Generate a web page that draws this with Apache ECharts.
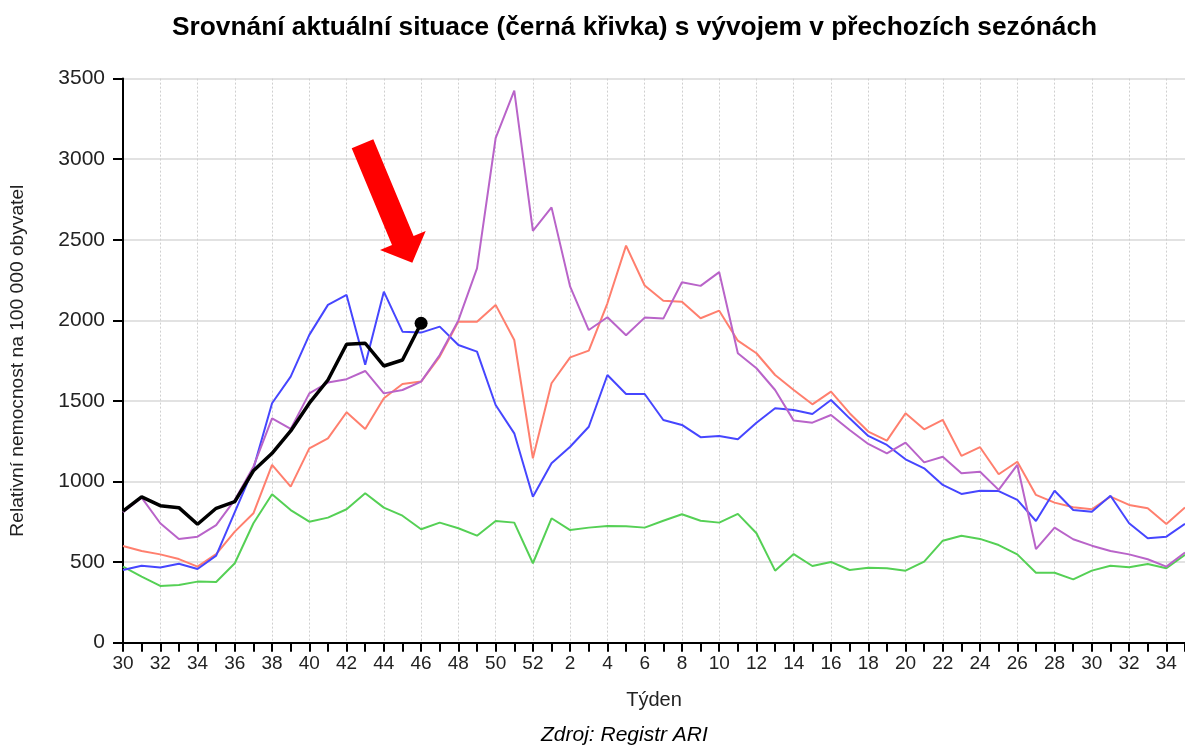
<!DOCTYPE html>
<html>
<head>
<meta charset="utf-8">
<script src="https://cdn.jsdelivr.net/npm/echarts@6/dist/echarts.min.js"></script>
<style>
  html, body { margin: 0; padding: 0; background: #fff; }
  #chart { width: 1185px; height: 747px; }
</style>
</head>
<body>
<div id="chart"></div>
<script>
// Week categories (season from week 30 to week 35 of the following year)
const weeks = [30,31,32,33,34,35,36,37,38,39,40,41,42,43,44,45,46,47,48,49,50,51,52,
               1,2,3,4,5,6,7,8,9,10,11,12,13,14,15,16,17,18,19,20,21,22,23,24,25,26,27,28,29,30,31,32,33,34,35];

// Current season (black curve)
const current = [817, 905, 850, 838, 735, 834, 875, 1067, 1175, 1314, 1486, 1630, 1852, 1858, 1717, 1754, 1982];

// Previous seasons
const blueSeason = [451, 478, 466, 490, 457, 540, 810, 1080, 1486, 1651,
                    1910, 2096, 2158, 1724, 2178, 1930, 1924, 1961, 1847, 1806,
                    1475, 1299, 906, 1113, 1216, 1340, 1661, 1543, 1543, 1382,
                    1351, 1275, 1283, 1262, 1365, 1455, 1444, 1419, 1506, 1392,
                    1283, 1227, 1138, 1082, 979, 923, 943, 941, 886, 755,
                    943, 823, 813, 912, 741, 648, 658, 738];

const greenSeason = [472, 410, 352, 358, 379, 377, 493, 741, 921, 823,
                     751, 776, 828, 927, 838, 788, 704, 745, 710, 664,
                     755, 745, 493, 772, 699, 714, 724, 722, 714, 757,
                     797, 757, 745, 799, 679, 447, 550, 476, 501, 451,
                     465, 462, 447, 503, 633, 664, 644, 606, 548, 434,
                     434, 393, 447, 478, 468, 488, 462, 545];

const orangeSeason = [600, 569, 548, 519, 472, 550, 689, 803, 1103, 968,
                      1206, 1268, 1430, 1326, 1517, 1605, 1620, 1775, 1992, 1992,
                      2096, 1878, 1144, 1610, 1770, 1812, 2106, 2464, 2216, 2122,
                      2116, 2013, 2060, 1874, 1796, 1661, 1568, 1479, 1558, 1424,
                      1310, 1254, 1424, 1324, 1382, 1159, 1213, 1045, 1123, 917,
                      869, 840, 828, 906, 855, 834, 737, 839];

const purpleSeason = [810, 900, 741, 644, 658, 730, 886, 1092, 1392, 1326,
                      1547, 1614, 1635, 1686, 1547, 1568, 1620, 1785, 2000, 2323,
                      3130, 3426, 2555, 2701, 2209, 1940, 2019, 1908, 2017, 2011,
                      2236, 2214, 2299, 1796, 1703, 1568, 1378, 1365, 1413, 1320,
                      1233, 1175, 1241, 1119, 1154, 1051, 1061, 948, 1103, 581,
                      714, 642, 602, 569, 548, 518, 472, 560];

const titleText = 'Srovnání aktuální situace (černá křivka) s vývojem v přechozích sezónách';
const yName = 'Relativní nemocnost na 100 000 obyvatel';
const xName = 'Týden';
const sourceText = 'Zdroj: Registr ARI';

const FONT = 'Arial, "Liberation Sans", sans-serif';

const chart = echarts.init(document.getElementById('chart'), null, { renderer: 'canvas' });

function prev(data, color) {
  return {
    type: 'line',
    data: data,
    symbol: 'none',
    lineStyle: { color: color, width: 2 },
    itemStyle: { color: color },
    silent: true,
    animation: false
  };
}

const option = {
  animation: false,
  backgroundColor: '#ffffff',
  title: {
    text: titleText,
    left: 167,
    top: 10,
    textStyle: { fontFamily: FONT, fontSize: 26.3, fontWeight: 'bold', color: '#000' }
  },
  grid: { left: 120.7, top: 78.6, right: -4.7, bottom: 104.3, containLabel: false },
  xAxis: {
    type: 'category',
    data: weeks,
    boundaryGap: false,
    name: xName,
    nameLocation: 'middle',
    nameGap: 48,
    nameTextStyle: { fontFamily: FONT, fontSize: 20, color: '#222' },
    axisLine: { lineStyle: { color: '#000', width: 2 } },
    axisTick: { show: true, interval: 0, length: 9, lineStyle: { color: '#000', width: 2 } },
    axisLabel: { interval: 1, fontFamily: FONT, fontSize: 19, color: '#222', margin: 12 },
    splitLine: { show: true, interval: 1, lineStyle: { color: '#cfcfcf', width: 1, type: [2, 2] } }
  },
  yAxis: {
    type: 'value',
    min: 0,
    max: 3500,
    interval: 500,
    name: yName,
    nameLocation: 'middle',
    nameGap: 96,
    nameTextStyle: { fontFamily: FONT, fontSize: 19.2, color: '#222' },
    axisLine: { show: true, lineStyle: { color: '#000', width: 2 } },
    axisTick: { show: true, length: 10, lineStyle: { color: '#000', width: 2 } },
    axisLabel: { fontFamily: FONT, fontSize: 21, color: '#222', margin: 18,
                 formatter: function (v) { return String(v); } },
    splitLine: { show: true, lineStyle: { color: '#d8d8d8', width: 1.5 } }
  },
  series: [
    prev(greenSeason, '#55d055'),
    prev(orangeSeason, '#ff7f6e'),
    prev(blueSeason, '#4646ff'),
    prev(purpleSeason, '#b964c9'),
    {
      type: 'line',
      data: current,
      symbol: 'circle',
      symbolSize: function (v, p) { return p.dataIndex === current.length - 1 ? 13 : 0; },
      showSymbol: true,
      lineStyle: { color: '#000', width: 3.5 },
      itemStyle: { color: '#000' },
      z: 10
    }
  ],
  graphic: [
    {
      type: 'polygon',
      shape: {
        points: [[351.7, 148.3], [373.3, 139.3], [413.6, 236], [425.7, 231], [412.3, 262.7], [380, 250], [392, 245]]
      },
      style: { fill: '#ff0000' },
      z: 100
    },
    {
      type: 'text',
      left: 541,
      top: 725,
      style: { text: sourceText, font: 'italic 21px ' + FONT, fill: '#000' }
    }
  ]
};

chart.setOption(option);
</script>
</body>
</html>
